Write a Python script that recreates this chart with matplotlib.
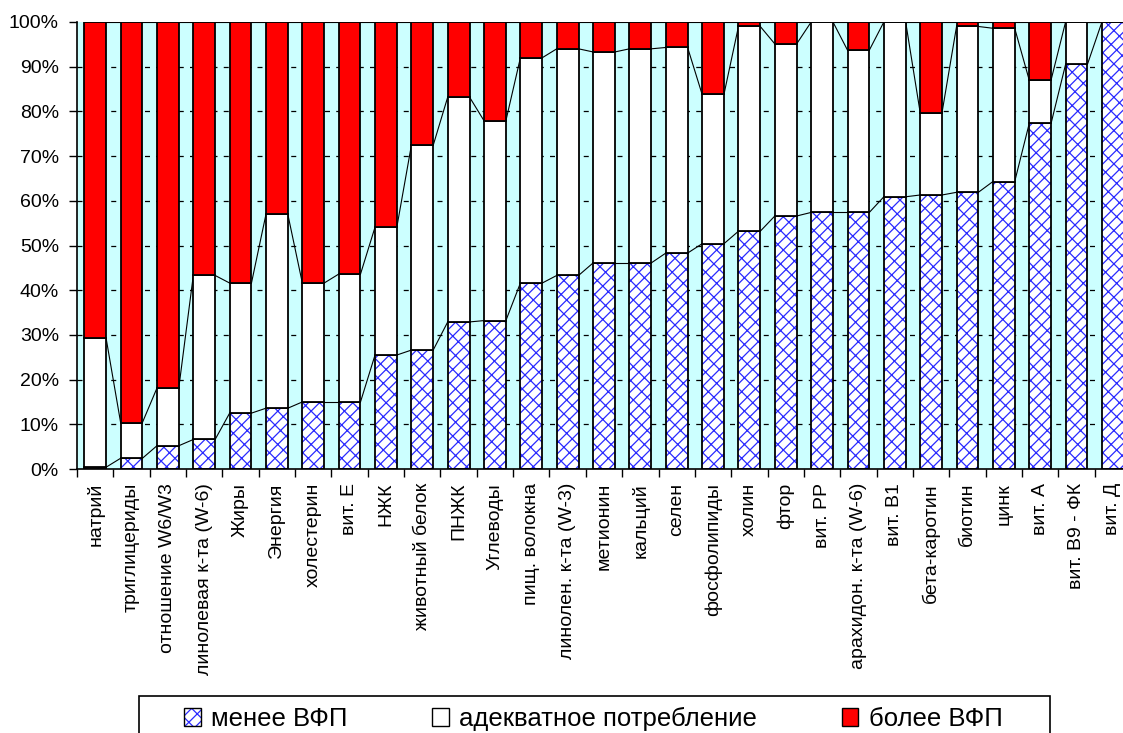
import numpy as np
import matplotlib
matplotlib.use("Agg")
import matplotlib.pyplot as plt
from matplotlib.patches import Patch, Rectangle
from matplotlib.legend_handler import HandlerTuple

plt.rcParams['font.family'] = ['Liberation Sans', 'DejaVu Sans']
plt.rcParams['hatch.linewidth'] = 0.9

# categories and shares (%)
labels = ['натрий', 'триглицериды', 'отношение W6/W3', 'линолевая к-та (W-6)',
          'Жиры', 'Энергия', 'холестерин', 'вит. Е', 'НЖК', 'животный белок',
          'ПНЖК', 'Углеводы', 'пищ. волокна', 'линолен. к-та (W-3)', 'метионин',
          'кальций', 'селен', 'фосфолипиды', 'холин', 'фтор', 'вит. РР',
          'арахидон. к-та (W-6)', 'вит. В1', 'бета-каротин', 'биотин', 'цинк',
          'вит. А', 'вит. В9 - ФК', 'вит. Д']
below = [0.4, 2.4, 5.2, 6.6, 12.5, 13.6, 15.0, 15.0, 25.5, 26.6,
         32.9, 33.2, 41.6, 43.3, 46.1, 46.1, 48.3, 50.4, 53.2, 56.6,
         57.4, 57.4, 60.9, 61.3, 61.9, 64.3, 77.3, 90.5, 100.0]
below_plus_adequate = [29.3, 10.4, 18.1, 43.3, 41.6, 57.0, 41.6, 43.6, 54.1, 72.4,
                       83.2, 77.9, 92.0, 94.0, 93.3, 94.0, 94.3, 83.8, 99.0, 95.1,
                       100.0, 93.7, 100.0, 79.7, 99.0, 98.6, 87.0, 100.0, 100.0]
series_names = ['менее ВФП', 'адекватное потребление', 'более ВФП']

low = np.array(below) / 100
mid = np.array(below_plus_adequate) / 100 - low
high = 1 - low - mid

x = np.arange(len(labels))
w = 0.6
hatch = '///' + '\\\\'
blue = '#2a2aff'

fig = plt.figure(figsize=(11.23, 7.33), dpi=100)
ax = fig.add_axes([77 / 1123, 264 / 733, 1054 / 1123, 447 / 733])
ax.set_facecolor('#ccffff')

# dashed gridlines, only visible between bars
for g in np.arange(0.1, 1.0, 0.1):
    ax.axhline(g, color='black', lw=0.9, ls=(0, (4, 5)), zorder=0.5)

ax.bar(x, low, w, color='white', edgecolor=blue, lw=0, hatch=hatch, zorder=2)
ax.bar(x, low, w, fill=False, edgecolor='black', lw=1.3, zorder=3)
ax.bar(x, mid, w, bottom=low, color='white', edgecolor='black', lw=1.3, zorder=3)
ax.bar(x, high, w, bottom=low + mid, color='red', edgecolor='black', lw=1.3, zorder=3)

# series lines between bars
for level in [low, low + mid, low + mid + high]:
    for i in range(len(x) - 1):
        ax.plot([x[i] + w / 2, x[i + 1] - w / 2], [level[i], level[i + 1]],
                color='black', lw=0.8, zorder=2.5)

ax.set_xlim(-0.5, len(labels) - 0.5)
ax.set_ylim(0, 1)
ax.set_yticks(np.arange(0, 1.01, 0.1))
ax.set_yticklabels([f'{int(round(v * 100))}%' for v in np.arange(0, 1.01, 0.1)], fontsize=14)
ax.set_xticks(x)
ax.set_xticklabels(labels, rotation=90, fontsize=14, va='top', ha='center')
ax.set_xticks(np.arange(-0.5, len(labels), 1), minor=True)
ax.tick_params(axis='x', which='major', length=0, pad=10)
ax.tick_params(axis='x', which='minor', length=6, width=1, direction='out')
ax.tick_params(axis='y', length=6, width=1, direction='out', pad=7)
for s in ['top', 'right']:
    ax.spines[s].set_visible(False)
for s in ['left', 'bottom']:
    ax.spines[s].set_linewidth(1.2)

h1 = (Patch(facecolor='white', edgecolor=blue, lw=0, hatch=hatch),
      Patch(fill=False, edgecolor='black', lw=1))
h2 = Patch(facecolor='white', edgecolor='black', lw=1)
h3 = Patch(facecolor='red', edgecolor='black', lw=1)
fig.legend([h1, h2, h3], series_names, loc='upper left',
           bbox_to_anchor=(184 / 1123, 1 - 707 / 733), ncol=3, fontsize=18.5,
           frameon=False, borderaxespad=0, borderpad=0,
           handlelength=0.65, handleheight=0.65, handletextpad=0.4,
           columnspacing=3.3,
           handler_map={tuple: HandlerTuple(ndivide=1, pad=0)})
fig.patches.append(Rectangle((139 / 1123, -0.1), (1050 - 139) / 1123, 0.1 + 37 / 733,
                             transform=fig.transFigure, fill=False,
                             edgecolor='black', lw=1.2))

fig.savefig('out.png', dpi=100)
